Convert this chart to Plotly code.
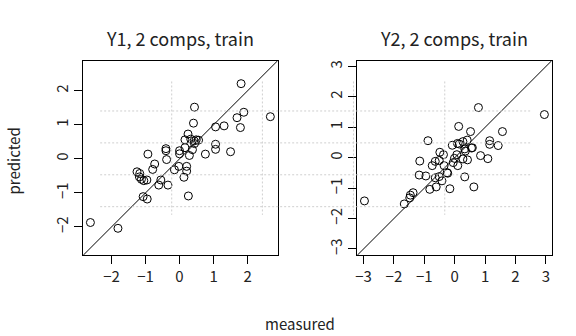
import plotly.graph_objects as go

# Y1 — measured vs predicted (training set, 2 components)
y1_measured = [-2.62, -1.81, 1.81, 0.44, 1.89, 1.69, 2.67, 0.41, 1.79, 1.06,
               1.31, 0.25, 0.16, 0.33, 0.43, 0.49, 0.56, 0.44, 1.06, 1.06,
               1.50, 0.76, 0.38, 0.16, 0.00, 0.00, 0.29, -0.40, -0.40, -0.38,
               -0.93, -0.73, -0.79, -0.15, -0.02, 0.21, 0.21, 0.13, -1.25, -1.17,
               -1.18, -1.12, -1.05, -0.96, -0.55, -0.61, -0.34, 0.26, -1.07, -0.95]
y1_predicted = [-1.87, -2.04, 2.21, 1.52, 1.37, 1.21, 1.24, 1.05, 0.92, 0.94,
                0.97, 0.73, 0.56, 0.58, 0.53, 0.56, 0.55, 0.45, 0.43, 0.28,
                0.21, 0.14, 0.27, 0.33, 0.24, 0.15, 0.10, 0.30, 0.24, -0.02,
                0.14, -0.15, -0.31, -0.32, -0.22, -0.22, -0.36, -0.54, -0.38, -0.43,
                -0.53, -0.60, -0.64, -0.62, -0.62, -0.77, -0.77, -1.09, -1.11, -1.18]

# Y2 — measured vs predicted (training set, 2 components)
y2_measured = [-2.97, 2.95, 0.78, 0.13, 1.57, 0.52, -0.88, 1.15, 1.15, 1.43,
               -0.08, 0.09, 0.15, 0.27, 0.41, 0.33, 0.35, 0.55, -0.49, -0.37,
               0.07, -0.01, 0.27, 0.42, 0.85, 1.09, -1.15, -0.64, -0.51, -0.74,
               -0.35, -0.05, 0.10, -0.23, -0.51, -0.64, -0.42, -1.17, -0.95, 0.33,
               -0.61, -0.82, -0.16, 0.63, -1.37, -1.46, -1.48, -1.66, -0.25, 0.58]
y2_predicted = [-1.42, 1.42, 1.65, 1.03, 0.86, 0.86, 0.56, 0.56, 0.44, 0.40,
                0.41, 0.47, 0.45, 0.53, 0.58, 0.29, 0.22, 0.32, 0.18, 0.10,
                0.10, -0.02, -0.04, -0.07, 0.07, -0.03, -0.11, -0.12, -0.09, -0.26,
                -0.26, -0.16, -0.26, -0.51, -0.62, -0.66, -0.76, -0.57, -0.60, -0.63,
                -0.96, -1.04, -1.02, -0.96, -1.15, -1.23, -1.32, -1.52, -0.49, 0.33]

panel_titles = ["Y1, 2 comps, train", "Y2, 2 comps, train"]
tick_values = [[-2, -1, 0, 1, 2], [-3, -2, -1, 0, 1, 2, 3]]

FONT = "Noto Sans CJK JP"


def limits(a, b):
    """Common axis limits with a 4% margin on each side."""
    lo = min(min(a), min(b))
    hi = max(max(a), max(b))
    pad = 0.04 * (hi - lo)
    return lo - pad, hi + pad


W, H = 576, 336
x_domains = [[81.5 / W, 276.5 / W], [356.5 / W, 551.5 / W]]
y_domain = [1 - 255 / H, 1 - 60 / H]

fig = go.Figure()
panels = [(y1_measured, y1_predicted), (y2_measured, y2_predicted)]

for i, (meas, pred) in enumerate(panels):
    xa = "x" if i == 0 else "x2"
    ya = "y" if i == 0 else "y2"
    lo, hi = limits(meas, pred)
    # identity line spanning the plotting region
    fig.add_trace(go.Scatter(x=[lo, hi], y=[lo, hi], mode="lines",
                             line=dict(color="black", width=1),
                             xaxis=xa, yaxis=ya, showlegend=False,
                             hoverinfo="skip"))
    fig.add_trace(go.Scatter(x=meas, y=pred, mode="markers",
                             marker=dict(symbol="circle-open", size=8,
                                         color="black", line=dict(width=1)),
                             xaxis=xa, yaxis=ya, showlegend=False))
    axis_common = dict(showline=True, mirror=True, linecolor="black",
                       linewidth=1, showgrid=False, zeroline=False,
                       ticks="outside", ticklen=8, tickcolor="black",
                       tickwidth=1, range=[lo, hi],
                       tickvals=tick_values[i],
                       tickfont=dict(family=FONT, size=15, color="#222"))
    fig.layout[("xaxis" if i == 0 else "xaxis2")] = dict(
        domain=x_domains[i], anchor=ya, **axis_common)
    fig.layout[("yaxis" if i == 0 else "yaxis2")] = dict(
        domain=y_domain, anchor=xa, tickangle=-90, **axis_common)
    fig.add_annotation(text=panel_titles[i], xref="paper", yref="paper",
                       x=sum(x_domains[i]) / 2, y=1 - 37 / H,
                       showarrow=False, xanchor="center", yanchor="middle",
                       font=dict(family=FONT, size=18, color="#222"))

# light dashed guide lines
guide = dict(color="#cfcfcf", width=1, dash="2px,2px")
for ypx in [110.3, 142.3, 174.3, 206.3]:
    fig.add_shape(type="line", xref="paper", yref="paper",
                  x0=98.5 / W, x1=532 / W, y0=1 - ypx / H, y1=1 - ypx / H,
                  line=guide, layer="above")
for xpx in [170.3, 261.3, 352.7, 444.3]:
    fig.add_shape(type="line", xref="paper", yref="paper",
                  x0=xpx / W, x1=xpx / W, y0=1 - 80.7 / H, y1=1 - 214.5 / H,
                  line=guide, layer="above")

fig.add_annotation(text="measured", xref="paper", yref="paper",
                   x=299 / W, y=1 - 323 / H, showarrow=False,
                   xanchor="center", yanchor="middle",
                   font=dict(family=FONT, size=15, color="#222"))
fig.add_annotation(text="predicted", xref="paper", yref="paper",
                   x=12 / W, y=1 - 160 / H, showarrow=False, textangle=-90,
                   xanchor="center", yanchor="middle",
                   font=dict(family=FONT, size=15, color="#222"))

fig.update_layout(width=W, height=H, margin=dict(l=0, r=0, t=0, b=0),
                  paper_bgcolor="white", plot_bgcolor="rgba(0,0,0,0)",
                  showlegend=False)

fig.write_html("out.html")
